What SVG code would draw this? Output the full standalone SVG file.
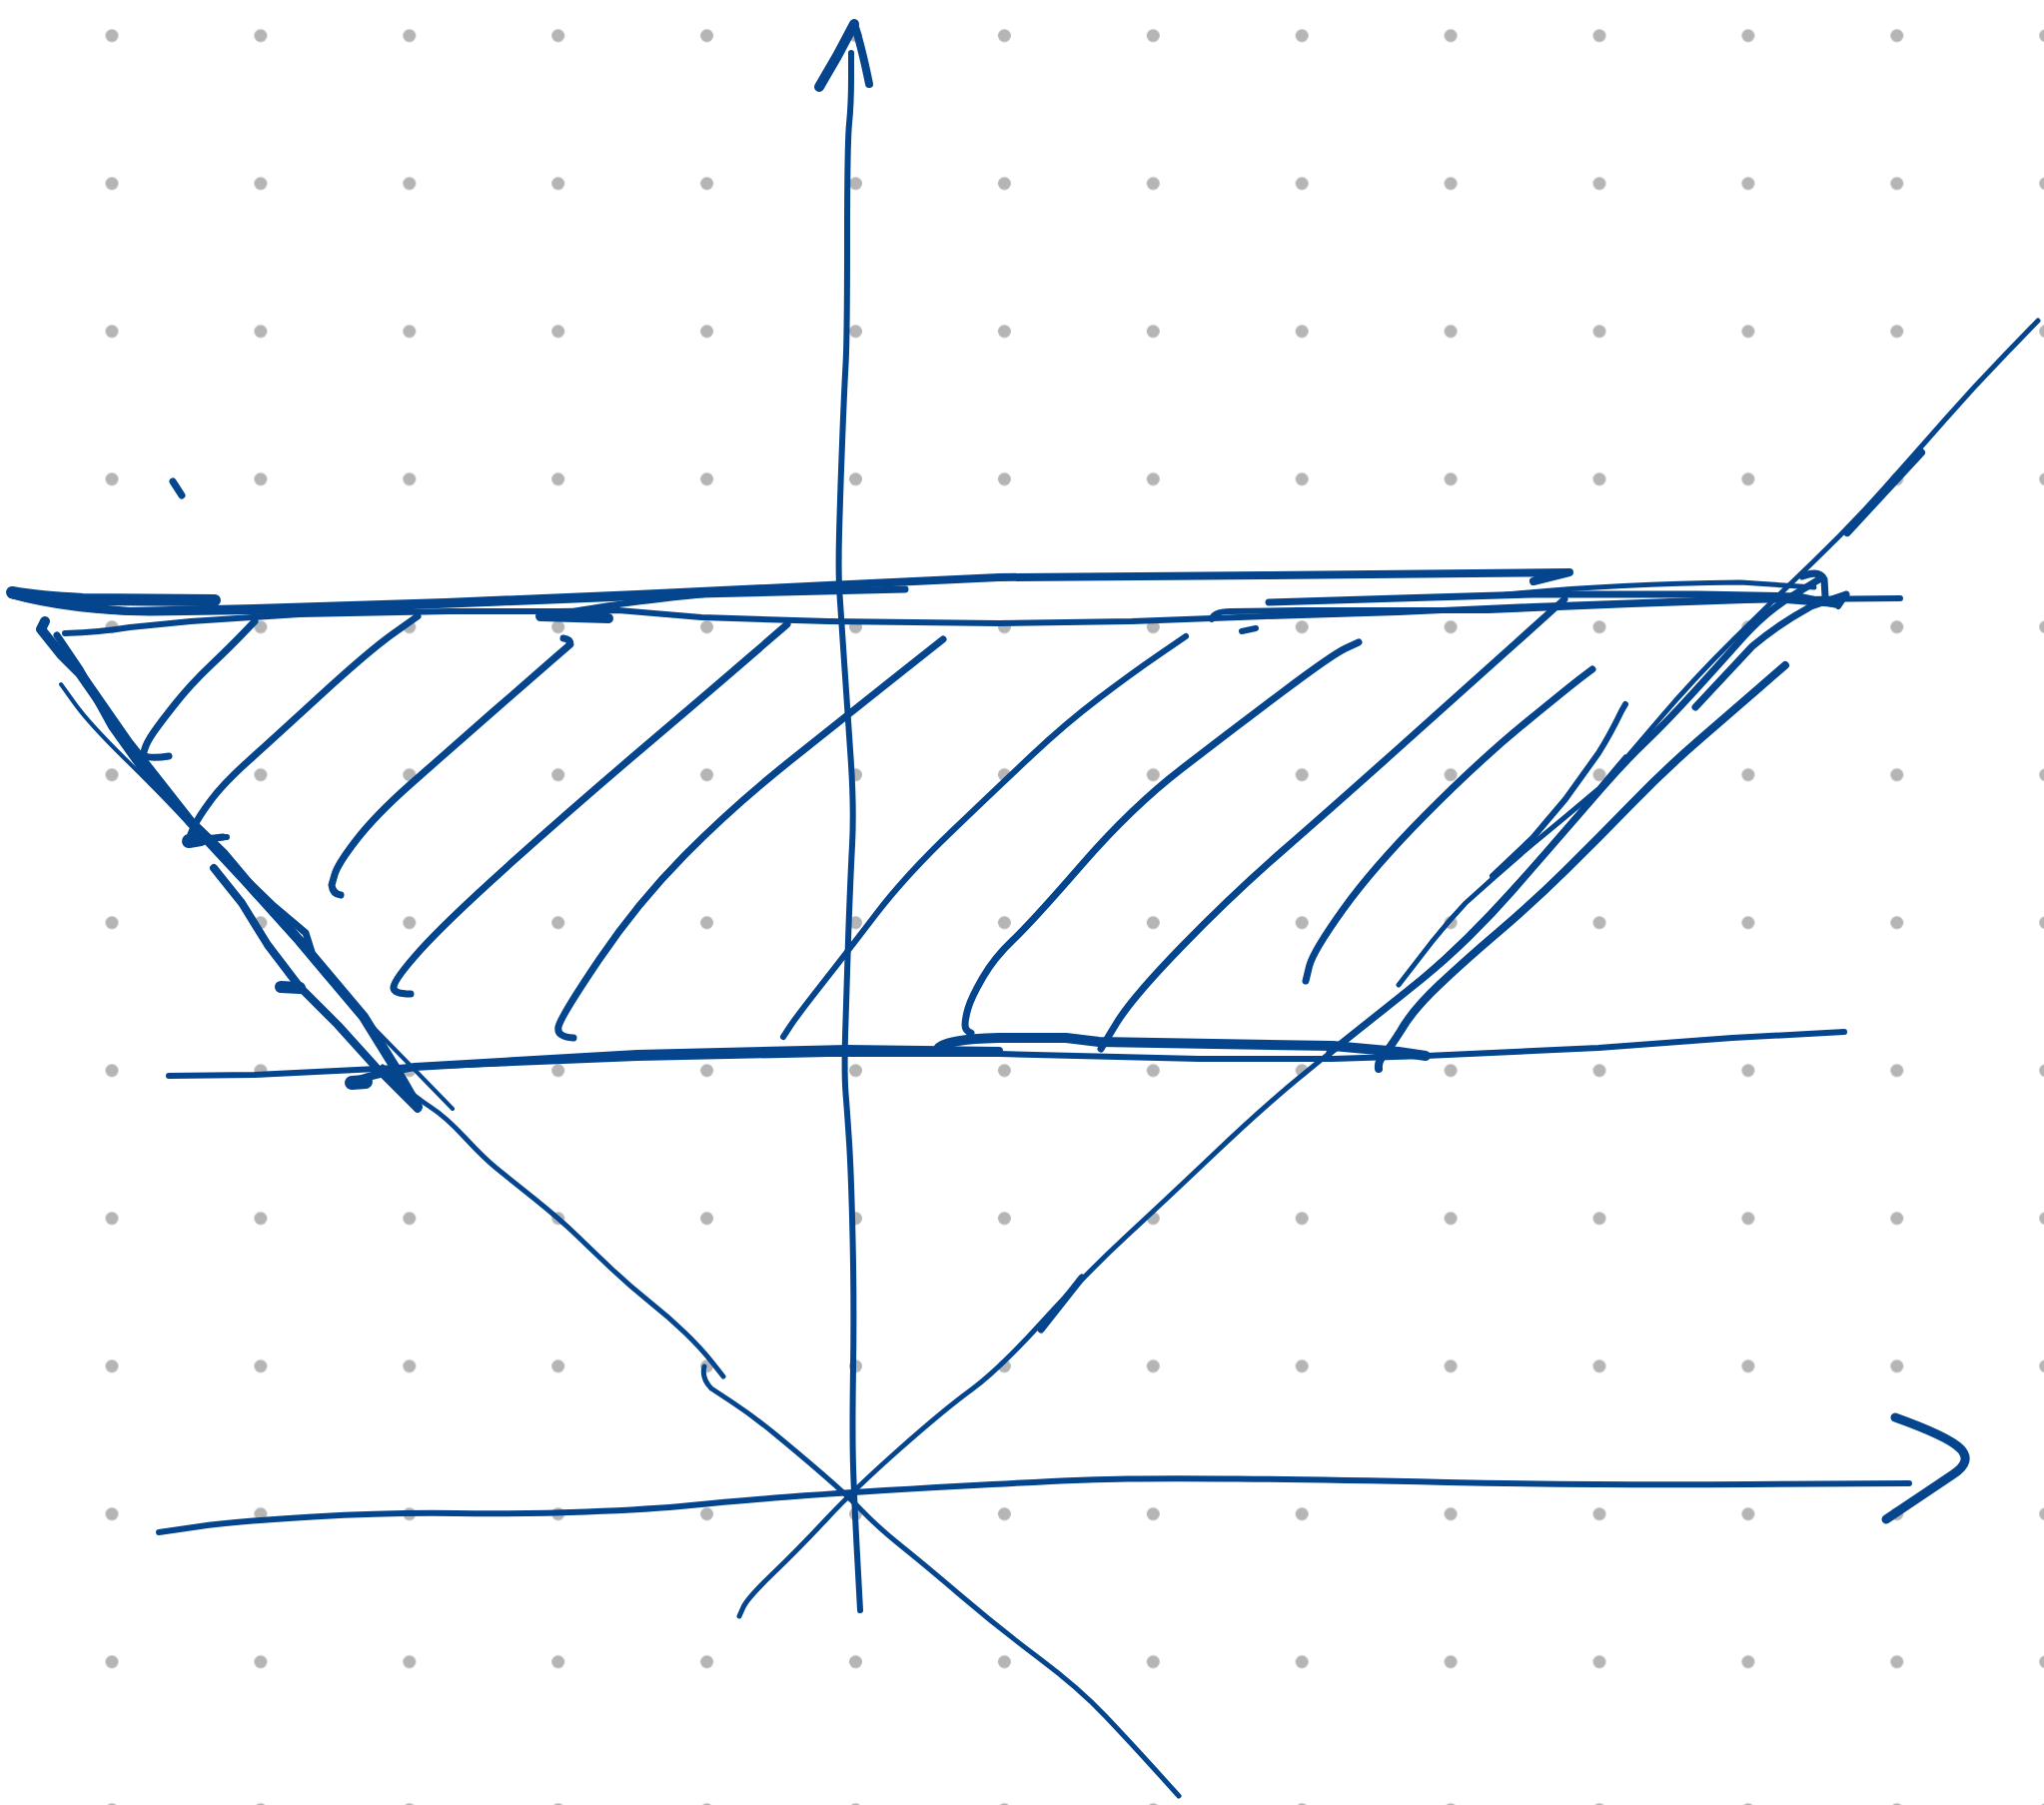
<svg xmlns="http://www.w3.org/2000/svg" width="2046" height="1807" viewBox="0 0 2046 1807">
<style>
.s{fill:none;stroke:#04458e;stroke-linecap:round;stroke-linejoin:round}
.w4{stroke-width:4}.w5{stroke-width:5}.w6{stroke-width:6}.w7{stroke-width:7}.w8{stroke-width:8}.w9{stroke-width:9}.w10{stroke-width:10}.w12{stroke-width:12}.w14{stroke-width:14}
</style>
<defs>
<pattern id="dots" patternUnits="userSpaceOnUse" x="37.55" y="-38.3" width="148.9" height="148">
<circle cx="74.45" cy="74" r="6.5" fill="#b5b5b5"/>
</pattern>
</defs>
<rect width="2046" height="1807" fill="#ffffff"/>
<rect width="2046" height="1807" fill="url(#dots)"/>
<g id="axes">
<path class="s w6" d="M852,53 L852,78.5 Q852,104 850,124 Q848,144 848,241.5 Q848,339 846.5,365 Q845,391 843,443.5 Q841,496 840,535 Q839,574 840.5,595.5 Q842,617 845,662.5 Q848,708 851.5,758 Q855,808 853,846 Q851,884 849,941.5 Q847,999 846,1037.5 Q845,1076 846.5,1094.5 Q848,1113 850,1143.5 Q852,1174 853.5,1239.5 Q855,1305 854,1370 Q853,1435 854,1468 Q855,1501 858,1556.5 L861,1612"/>
<path class="s w10" d="M820,87 L838,56 L855,24"/>
<path class="s w8" d="M855,24 Q862,45 870,84"/>
<path class="s w6" d="M159,1534 L197,1528.5 Q235,1523 313,1518.5 Q391,1514 456.5,1515 Q522,1516 587,1513.5 Q652,1511 691.5,1507 Q731,1503 789.5,1498.5 Q848,1494 965.5,1487.5 Q1083,1481 1128.5,1480.5 Q1174,1480 1239.5,1480.5 Q1305,1481 1448.5,1484 Q1592,1487 1751.5,1486 L1911,1485"/>
<path class="s w9" d="M1897,1419 Q1950,1438 1962,1450 Q1975,1463 1955,1476 L1888,1521"/>
</g>
<g id="band-top">
<path class="s w12" d="M12,593 Q40,598 83,600 L215,601"/>
<path class="s w8" d="M12,595 Q60,607 130,612 L255,609 L446,603 L638,595 L829,586 L1000,578 L1267,576 L1571,573 L1535,582"/>
<path class="s w7" d="M12,596 Q70,612 150,613 L300,611 L500,603 L700,595 L906,590"/>
<path class="s w6" d="M65,634 Q100,633 130,628 L191,622 L300,615 L450,612 L560,612 L619,611 L702,618 L829,622 L1000,624 L1133,622 L1267,617 L1400,613 L1534,607 L1700,601 L1902,599"/>
<path class="s w10" d="M541,617 L609,619"/>
<path class="s w6" d="M574,612 Q640,600 783,588"/>
<path class="s w7" d="M1270,603 L1400,599 L1534,595 L1700,595 L1800,597 L1837,605"/>
<path class="s w6" d="M1213,620 Q1214,612 1232,612 L1300,611 L1490,611 L1633,605 L1776,600 L1838,605"/>
<path class="s w5" d="M1500,596 Q1600,585 1742,583 L1816,588"/>
<path class="s w7" d="M1804,577 Q1821,570 1826,580 L1827,597"/>
<path class="s w6" d="M1848,595 L1840,607"/>
<path class="s w6" d="M1243,632 L1257,629"/>
<path class="s w7" d="M173,482 L182,496"/>
</g>
<g id="band-bottom">
<path class="s w6" d="M169,1077 L255,1076 L357,1071 L415,1068 L638,1059 L829,1055 L1000,1055 L1200,1060 L1334,1060 L1427,1057 L1600,1049 L1734,1039 L1846,1033"/>
<path class="s w8" d="M351,1085 Q360,1078 415,1068 L638,1055 L848,1050 L1000,1052"/>
<path class="s w10" d="M939,1050 Q945,1040 1000,1039 L1067,1039 L1100,1043 L1334,1047 L1400,1053 L1427,1057"/>
<path class="s w14" d="M352,1084 L366,1083"/>
</g>
<g id="left-arm">
<path class="s w10" d="M45,622 L41,630 L61,655 L80,674 L128,743 L191,823 L223,854 L255,892 L300,942 L332,980 L364,1018 L395,1068 L418,1108"/>
<path class="s w7" d="M57,636 L80,670 L112,728 L147,777 L204,835 L239,873 L274,907 L306,934 L312,953"/>
<path class="s w4" d="M61,685 L75,704.5 Q89,724 124,758.5 Q159,793 178.5,814 Q198,835 219,857.5 Q240,880 263.5,905 Q287,930 312.5,961 Q338,992 360.5,1015 Q383,1038 418,1074 L453,1110"/>
<path class="s w8" d="M214,869 L242,904 L268,946 L300,988 L338,1026 L376,1068 L418,1110"/>
<path class="s w14" d="M189,842 L201,840"/>
<path class="s w6" d="M201,840 L227,838"/>
<path class="s w12" d="M281,988 L300,989"/>
<path class="s w5" d="M383,1068 L399,1083 Q415,1098 430.5,1108 Q446,1118 465.5,1139 Q485,1160 497.5,1170 Q510,1180 535.5,1200.5 Q561,1221 577,1236.5 Q593,1252 612,1270 Q631,1288 650.5,1303.5 Q670,1319 686,1334.5 Q702,1350 713,1364 L724,1378"/>
<path class="s w5" d="M705,1368 Q702,1380 712,1390 L732.5,1403.5 Q753,1417 775,1435 Q797,1453 822.5,1475 Q848,1497 864,1513.5 Q880,1530 902.5,1548 Q925,1566 962.5,1598 Q1000,1630 1040,1660 Q1080,1690 1106.5,1718 Q1133,1746 1156.5,1772 L1180,1798"/>
</g>
<g id="right-arm">
<path class="s w5" d="M2040,321 L2008,354 Q1976,387 1947,420 Q1918,453 1885,490 Q1852,527 1814,563.5 Q1776,600 1735.5,640 Q1695,680 1661,720 Q1627,760 1580.5,814.5 Q1534,869 1490.5,915 Q1447,961 1397,1001 Q1347,1041 1307,1073.5 Q1267,1106 1217,1153.5 Q1167,1201 1127,1238 Q1087,1275 1043.5,1323 Q1000,1371 972,1391.5 Q944,1412 899.5,1451.5 Q855,1491 827.5,1520.5 Q800,1550 774,1575 Q748,1600 744,1609 L740,1618"/>
<path class="s w8" d="M1923,453 L1849,533"/>
<path class="s w7" d="M1821,580 L1794,596.5 Q1767,613 1743.5,639.5 Q1720,666 1693.5,695 Q1667,724 1647,743 Q1627,762 1603.5,789 Q1580,816 1557,842.5 Q1534,869 1514,892 Q1494,915 1470.5,938 Q1447,961 1423.5,980 Q1400,999 1373.5,1020 Q1347,1041 1331,1054"/>
<path class="s w7" d="M1848,595 L1813,607 Q1780,625 1754,647 L1697,708"/>
<path class="s w8" d="M1787,666 L1760.5,689 Q1734,712 1700.5,741 Q1667,770 1633.5,804.5 Q1600,839 1567,871.5 Q1534,904 1500.5,932.5 Q1467,961 1440.5,986 Q1414,1011 1402,1032 Q1392,1048 1385,1056 Q1379,1063 1380,1070"/>
<path class="s w6" d="M1627,705 L1623,712 Q1612,735 1600,754 L1567,800 Q1550,820 1534,839 L1494,877"/>
<path class="s w5" d="M1627,758 L1600,790 Q1567,818 1534,845 Q1500,874 1467,904 Q1450,922 1434,942 L1400,986"/>
<path class="s w7" d="M1042,1331 L1083,1279"/>
</g>
<g id="hatching">
<path class="s w7" d="M255,622 L242.5,635 Q230,648 210.5,666.5 Q191,685 175.5,704.5 Q160,724 153.5,733.5 Q147,743 145,749.5 L143,756 Q150,760 169,757"/>
<path class="s w7" d="M418,617 L394,634 Q370,651 322,695 Q274,739 248.5,762 Q223,785 210.5,802 Q198,819 194.5,827 L191,835 Q200,842 223,838"/>
<path class="s w7" d="M564,639 Q571,640 571,645 L556.5,657.5 Q542,670 494,712 Q446,754 411,785 Q376,816 357,840.5 Q338,865 335,875.5 L332,886 Q333,895 341,896"/>
<path class="s w7" d="M788,625 L751,657 Q714,689 644,748.5 Q574,808 510,865.5 Q446,923 420.5,951.5 Q395,980 394,988 Q393,995 411,995"/>
<path class="s w7" d="M944,640 L896,678 Q848,716 790.5,762 Q733,808 685.5,856 Q638,904 599.5,961 Q561,1018 559,1028 Q557,1038 574,1039"/>
<path class="s w6" d="M1187,637 L1160,655.5 Q1133,674 1100,699 Q1067,724 1033.5,755.5 Q1000,787 953,832 Q906,877 877,915 Q848,953 822.5,985.5 Q797,1018 790.5,1028 L784,1038"/>
<path class="s w7" d="M1360,643 L1347,649 Q1334,655 1283.5,693 Q1233,731 1183,769.5 Q1133,808 1083,865.5 Q1033,923 1014,941 Q995,959 983.5,979 Q972,999 969,1009.5 Q966,1020 966,1026 Q966,1032 972,1034"/>
<path class="s w7" d="M1566,600 L1516.5,644.5 Q1467,689 1400.5,748.5 Q1334,808 1283.5,852 Q1233,896 1183,947.5 Q1133,999 1117.5,1024.5 L1102,1050"/>
<path class="s w7" d="M1594,670 L1584,677.5 Q1574,685 1527,723.5 Q1480,762 1427,815.5 Q1374,869 1344,911 Q1314,953 1310.5,967.5 L1307,982"/>
</g>
</svg>
